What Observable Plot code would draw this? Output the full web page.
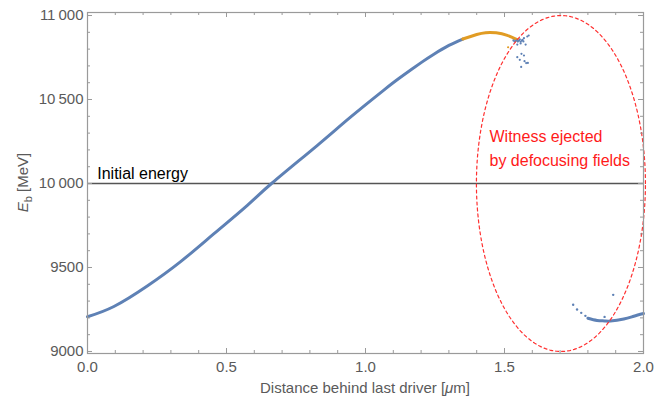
<!DOCTYPE html>
<html>
<head>
<meta charset="utf-8">
<script src="https://cdn.jsdelivr.net/npm/d3@7"></script>
<script src="https://cdn.jsdelivr.net/npm/@observablehq/plot@0.6"></script>
<style>
  body { margin: 0; background: #fff; }
  #chart svg { display: block; }
</style>
</head>
<body>
<div id="chart"></div>
<script>
// Witness energy along the bunch, behind the last driver.
// Main accelerated slice (blue)
const beamX = [0.000, 0.095, 0.215, 0.335, 0.454, 0.574, 0.664, 0.826, 0.946, 1.066, 1.126, 1.204, 1.246, 1.300, 1.350];
const beamE = [9207, 9268, 9390, 9535, 9700, 9869, 10003, 10226, 10395, 10556, 10632, 10724, 10770, 10822, 10860];

// Highest-energy slice (orange)
const peakX = [1.350, 1.400, 1.432, 1.470, 1.510, 1.545];
const peakE = [10860, 10887, 10898, 10897, 10882, 10856];

// Scattered particles at the end of the accelerated slice
const scatterX = [1.532, 1.536, 1.540, 1.544, 1.548, 1.552, 1.555, 1.558, 1.562, 1.565, 1.568, 1.582, 1.587, 1.570, 1.558, 1.546, 1.576, 1.561, 1.570, 1.546, 1.555, 1.572, 1.584, 1.578, 1.560];
const scatterE = [10852, 10846, 10848, 10852, 10845, 10850, 10858, 10844, 10850, 10855, 10846, 10875, 10881, 10865, 10834, 10827, 10827, 10772, 10762, 10752, 10736, 10728, 10718, 10717, 10694];
const strayX = [1.513];
const strayE = [10811];

// Particles that re-enter the window far behind the driver
const tailBandX = [1.800, 1.833, 1.860, 1.881, 1.929, 1.965, 2.000];
const tailBandE = [9198, 9185, 9182, 9181, 9193, 9210, 9226];
const tailDotsX = [1.747, 1.761, 1.776, 1.791, 1.860, 1.891];
const tailDotsE = [9278, 9250, 9230, 9212, 9206, 9337];

// Reference level and annotations
const initialEnergy = 10000;
const ejectedZone = { cx: 1.703, cy: 10000, rx: 0.304, ry: 1000 };

// Axes
const xMajor = [0, 0.5, 1, 1.5, 2];
const xMinor = d3.range(0, 21).map(i => i / 10).filter(v => !xMajor.includes(v));
const yMajor = [9000, 9500, 10000, 10500, 11000];
const yMajorLabels = ["9000", "9500", "10\u2009000", "10\u2009500", "11\u2009000"];
const yMinor = d3.range(9000, 11001, 100).filter(v => !yMajor.includes(v));

const zip = (xs, ys) => xs.map((x, i) => ({ x, y: ys[i] }));
const beam = zip(beamX, beamE);
const peak = zip(peakX, peakE);
const scatter = zip(scatterX, scatterE);
const stray = zip(strayX, strayE);
const tailBand = zip(tailBandX, tailBandE);
const tailDots = zip(tailDotsX, tailDotsE);

const ellipse = d3.range(0, 241).map(i => {
  const t = (i / 240) * 2 * Math.PI;
  return { x: ejectedZone.cx + ejectedZone.rx * Math.cos(t), y: ejectedZone.cy + ejectedZone.ry * Math.sin(t) };
});

const W = 663, H = 402;
const mL = 87, mR = 20, mT = 12, mB = 49;
const fw = W - mL - mR, fh = H - mT - mB;
const frameColor = "#9a9a9a";
const labelColor = "#5a5a5a";
const blue = "#5E81B5", orange = "#E19C24";
const font = "'Liberation Sans', Arial, Helvetica, sans-serif";

const yLabelOf = v => yMajorLabels[yMajor.indexOf(v)];

const chart = Plot.plot({
  width: W,
  height: H,
  marginLeft: mL,
  marginRight: mR,
  marginTop: mT,
  marginBottom: mB,
  style: { fontFamily: font, fontSize: "15px", background: "#fff", overflow: "visible" },
  x: { domain: [0, 2] },
  y: { domain: [8988, 11018] },
  marks: [
    // reference level
    Plot.ruleY([initialEnergy], { stroke: "#555", strokeWidth: 1.3 }),
    // accelerated slice
    Plot.line(beam, { x: "x", y: "y", stroke: blue, strokeWidth: 3, curve: "natural" }),
    Plot.line(peak, { x: "x", y: "y", stroke: orange, strokeWidth: 3, curve: "natural" }),
    Plot.dot(scatter, { x: "x", y: "y", r: 1.1, fill: blue, stroke: null }),
    Plot.dot(stray, { x: "x", y: "y", r: 1.1, fill: orange, stroke: null }),
    // trailing particles
    Plot.line(tailBand, { x: "x", y: "y", stroke: blue, strokeWidth: 3, curve: "natural" }),
    Plot.dot(tailDots, { x: "x", y: "y", r: 1.2, fill: blue, stroke: null }),
    // ejection region
    Plot.line(ellipse, { x: "x", y: "y", stroke: "#ff3030", strokeWidth: 1.2, strokeDasharray: "3,3", curve: "linear" }),
    Plot.text(["Witness ejected\nby defocusing fields"], {
      x: 1.446, y: 10107, text: d => d, textAnchor: "start", lineAnchor: "bottom",
      lineHeight: 1.46, fill: "#ff1a1a", fontSize: 16
    }),
    Plot.text(["Initial energy"], {
      x: 0.035, y: initialEnergy, text: d => d, textAnchor: "start", lineAnchor: "bottom",
      dy: -5, fill: "#000", fontSize: 16
    }),
    // frame and inward ticks on every side
    Plot.frame({ stroke: frameColor, strokeWidth: 1.2 }),
    Plot.tickX(xMajor, { x: d => d, insetTop: fh - 5, stroke: frameColor }),
    Plot.tickX(xMinor, { x: d => d, insetTop: fh - 3, stroke: frameColor }),
    Plot.tickX(xMajor, { x: d => d, insetBottom: fh - 5, stroke: frameColor }),
    Plot.tickX(xMinor, { x: d => d, insetBottom: fh - 3, stroke: frameColor }),
    Plot.tickY(yMajor, { y: d => d, insetRight: fw - 5, stroke: frameColor }),
    Plot.tickY(yMinor, { y: d => d, insetRight: fw - 3, stroke: frameColor }),
    Plot.tickY(yMajor, { y: d => d, insetLeft: fw - 5, stroke: frameColor }),
    Plot.tickY(yMinor, { y: d => d, insetLeft: fw - 3, stroke: frameColor }),
    Plot.axisX(xMajor, { tickSize: 0, tickPadding: 8, tickFormat: d => d.toFixed(1), label: null, color: labelColor, fontSize: 15 }),
    Plot.axisY(yMajor, { tickSize: 0, tickPadding: 4, tickFormat: yLabelOf, label: null, color: labelColor, fontSize: 15 })
  ]
});

document.getElementById("chart").appendChild(chart);

// Axis titles with italic symbols
const svg = d3.select(chart);
const xt = svg.append("text")
  .attr("x", mL + fw / 2).attr("y", 393)
  .attr("text-anchor", "middle")
  .attr("fill", labelColor)
  .style("font-family", font).style("font-size", "15px");
xt.append("tspan").text("Distance behind last driver [");
xt.append("tspan").attr("font-style", "italic").text("\u03bc");
xt.append("tspan").text("m]");

const yt = svg.append("text")
  .attr("transform", `translate(28,${mT + fh / 2 + 0}) rotate(-90)`)
  .attr("text-anchor", "middle")
  .attr("fill", labelColor)
  .style("font-family", font).style("font-size", "15px");
yt.append("tspan").attr("font-style", "italic").text("E");
yt.append("tspan").attr("font-size", "11px").attr("dy", "4").text("b");
yt.append("tspan").attr("dy", "-4").text(" [MeV]");
</script>
</body>
</html>
